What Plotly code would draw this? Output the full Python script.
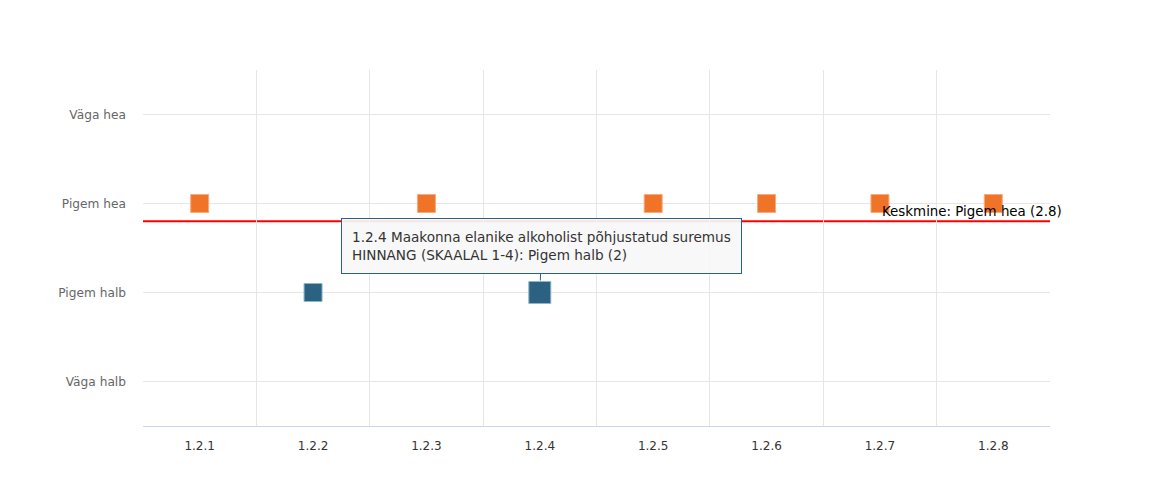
import plotly.graph_objects as go

categories = ["1.2.1", "1.2.2", "1.2.3", "1.2.4", "1.2.5", "1.2.6", "1.2.7", "1.2.8"]
values = [3, 2, 3, 2, 3, 3, 3, 3]
y_labels = ["Väga halb", "Pigem halb", "Pigem hea", "Väga hea"]
y_levels = [1, 2, 3, 4]
mean_value = 2.8
mean_label = "Keskmine: Pigem hea (2.8)"
tooltip_index = 3
tooltip_title = "1.2.4 Maakonna elanike alkoholist põhjustatud suremus"
tooltip_series = "HINNANG (SKAALAL 1-4)"

ORANGE = "#F07427"
BLUE = "#2B6282"
FONT = "DejaVu Sans"

x_idx = list(range(len(categories)))
good_x = [i for i, v in zip(x_idx, values) if v >= 3]
good_y = [v for v in values if v >= 3]
bad_x = [i for i, v in zip(x_idx, values) if v < 3]
bad_y = [v for v in values if v < 3]
bad_size = [22 if i == tooltip_index else 18 for i in bad_x]

fig = go.Figure()

fig.add_shape(type="line", xref="paper", x0=0, x1=1, yref="y", y0=mean_value, y1=mean_value,
              line=dict(color="#ff0000", width=2), layer="below")

fig.add_trace(go.Scatter(
    x=good_x, y=good_y, mode="markers", opacity=1,
    marker=dict(symbol="square", size=18, color=ORANGE, opacity=1,
                line=dict(color="#F6AB80", width=1)),
    showlegend=False, hoverinfo="skip"))
fig.add_trace(go.Scatter(
    x=bad_x, y=bad_y, mode="markers", opacity=1,
    marker=dict(symbol="square", size=bad_size, color=BLUE, opacity=1,
                line=dict(color="#8FB4CB", width=1)),
    showlegend=False, hoverinfo="skip"))

fig.add_annotation(x=0.8126, xref="paper", y=mean_value, yref="y", xanchor="left", yanchor="bottom",
                   text=mean_label, showarrow=False, font=dict(family=FONT, size=13.4, color="#000000"))

tip_label = y_labels[y_levels.index(values[tooltip_index])]
fig.add_annotation(
    x=tooltip_index, y=values[tooltip_index], xref="x", yref="y",
    ax=2, ay=-47, axref="pixel", ayref="pixel",
    text=f"{tooltip_title}<br>{tooltip_series}: {tip_label} ({values[tooltip_index]})",
    align="left", showarrow=True, arrowhead=0, arrowwidth=1, arrowcolor=BLUE, standoff=12,
    bgcolor="rgba(247,247,247,0.92)", bordercolor=BLUE, borderwidth=1, borderpad=10,
    font=dict(family=FONT, size=13.6, color="#333333"))

fig.update_layout(
    width=1149, height=480,
    margin=dict(l=135, r=107, t=62, b=62),
    paper_bgcolor="white", plot_bgcolor="white",
    font=dict(family=FONT, size=12, color="#666666"),
    xaxis=dict(
        range=[-0.5, len(categories) - 0.5],
        tickvals=x_idx, ticktext=categories,
        showgrid=False, zeroline=False, ticks="",
        showline=True, linecolor="#ccd6eb", linewidth=1,
        tickfont=dict(family=FONT, size=12, color="#333333"),
        ticklabelstandoff=9,
        minor=dict(tickvals=[i - 0.5 for i in range(len(categories) + 1)],
                   showgrid=True, gridcolor="#e6e6e6", gridwidth=1, ticks=""),
    ),
    yaxis=dict(
        range=[0.5, 4.5],
        tickvals=y_levels, ticktext=y_labels,
        showgrid=True, gridcolor="#e6e6e6", gridwidth=1,
        zeroline=False, ticks="", showline=False,
        tickfont=dict(family=FONT, size=12.2, color="#666666"),
        ticklabelstandoff=16,
    ),
)

fig.write_html("out.html")
